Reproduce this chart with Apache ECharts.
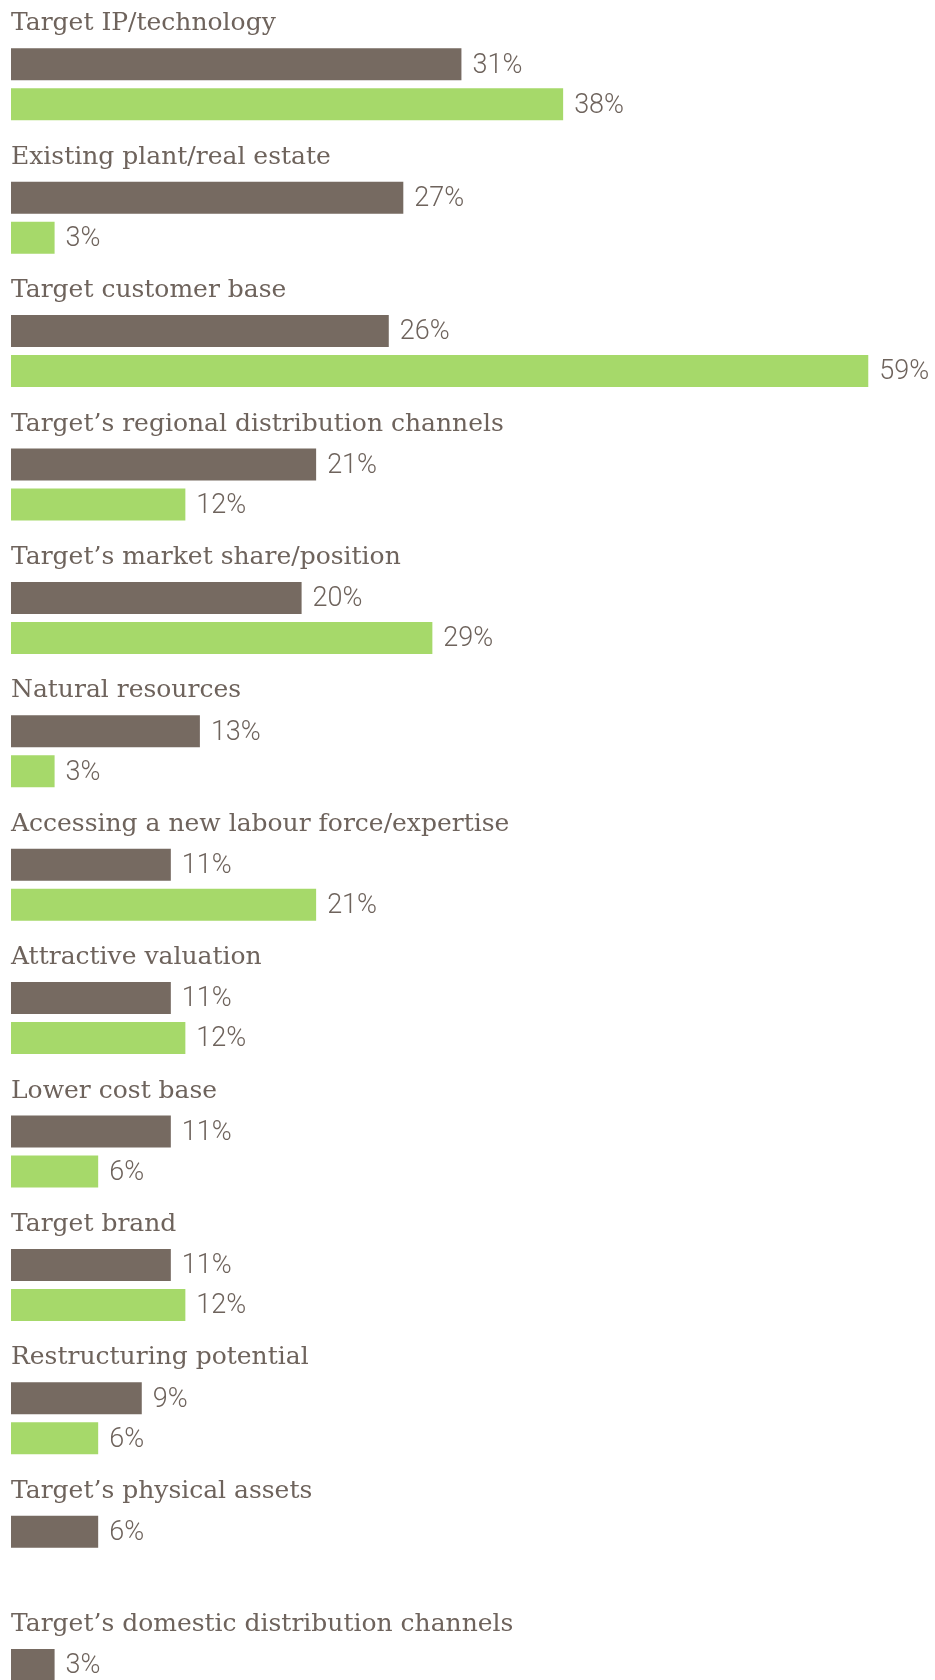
<!DOCTYPE html>
<html>
<head>
<meta charset="utf-8">
<script src="https://cdn.jsdelivr.net/npm/echarts@6/dist/echarts.min.js"></script>
<style>html,body{margin:0;padding:0;background:#fff;}#c{width:935px;height:1680px;}</style>
</head>
<body>
<div id="c"></div>
<script>
const categories = [
  "Target IP/technology",
  "Existing plant/real estate",
  "Target customer base",
  "Target\u2019s regional distribution channels",
  "Target\u2019s market share/position",
  "Natural resources",
  "Accessing a new labour force/expertise",
  "Attractive valuation",
  "Lower cost base",
  "Target brand",
  "Restructuring potential",
  "Target\u2019s physical assets",
  "Target\u2019s domestic distribution channels"
];
const brownValues = [31, 27, 26, 21, 20, 13, 11, 11, 11, 11, 9, 6, 3];
const greenValues = [38, 3, 59, 12, 29, 3, 21, 12, 6, 12, 6, '-', '-'];

const textColor = '#6e635c';
const chart = echarts.init(document.getElementById('c'), null, {renderer: 'canvas'});
const valueLabel = {
  show: true,
  position: 'right',
  distance: 11,
  offset: [0, 1.5],
  formatter: '{c}%',
  fontFamily: 'Roboto',
  fontWeight: 300,
  fontSize: 27,
  color: textColor
};
chart.setOption({
  animation: false,
  backgroundColor: '#ffffff',
  grid: {left: 11, top: 17.6, width: 871.8, height: 1734.2, outerBoundsMode: 'none', containLabel: false},
  xAxis: {type: 'value', min: 0, max: 60, show: false},
  yAxis: {
    type: 'category',
    data: categories,
    inverse: true,
    axisLine: {show: false},
    axisTick: {show: false},
    splitLine: {show: false},
    axisLabel: {
      inside: true,
      margin: 0,
      align: 'left',
      verticalAlign: 'bottom',
      lineHeight: 121,
      fontFamily: 'DejaVu Serif',
      fontSize: 25,
      color: textColor
    }
  },
  series: [
    {type: 'bar', data: brownValues, barWidth: 32, barGap: '25%', itemStyle: {color: '#766a61'}, label: valueLabel},
    {type: 'bar', data: greenValues, barWidth: 32, barGap: '25%', itemStyle: {color: '#a6d96a'}, label: valueLabel}
  ]
});
</script>
</body>
</html>
